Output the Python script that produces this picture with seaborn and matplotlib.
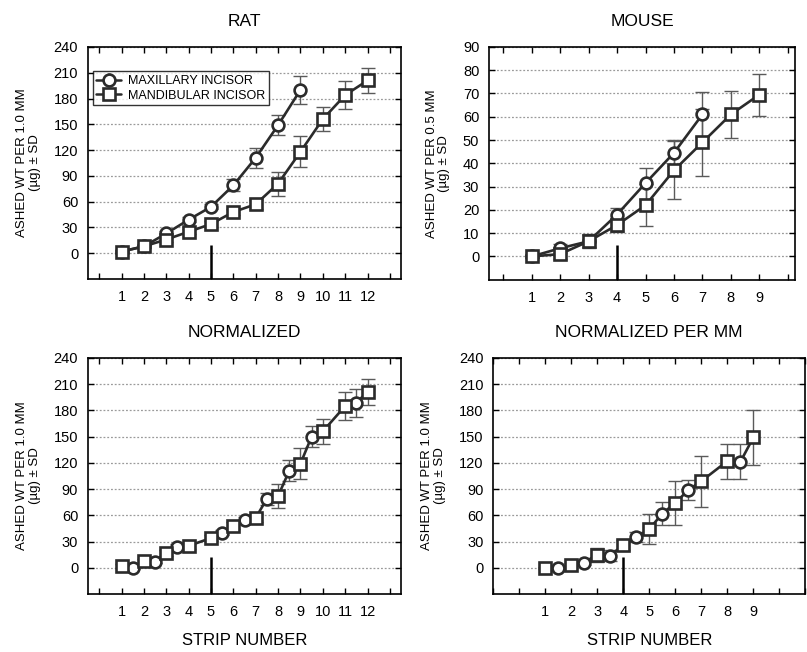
import matplotlib
matplotlib.use("Agg")
import matplotlib.pyplot as plt
import numpy as np
import pandas as pd
import seaborn as sns

# RAT, per 1.0 mm
rat_strips_max = [1, 2, 3, 4, 5, 6, 7, 8, 9]
rat_max = [2, 8, 23, 39, 54, 79, 111, 149, 190]
rat_max_sd = [2, 2, 3, 3, 3, 7, 12, 12, 16]
rat_strips_man = [1, 2, 3, 4, 5, 6, 7, 8, 9, 10, 11, 12]
rat_man = [2, 8, 16, 25, 34, 48, 57, 81, 118, 156, 184, 201]
rat_man_sd = [2, 2, 3, 3, 3, 4, 5, 14, 18, 14, 16, 15]

# MOUSE, per 0.5 mm
mouse_strips_max = [1, 2, 3, 4, 5, 6, 7]
mouse_max = [0, 3.5, 6.5, 18, 31.5, 44.5, 61]
mouse_max_sd = [0.5, 2, 2.5, 3, 6.7, 5.5, 9.5]
mouse_strips_man = [1, 2, 3, 4, 5, 6, 7, 8, 9]
mouse_man = [0, 1, 6.5, 13.5, 22, 37, 49, 61, 69.5]
mouse_man_sd = [0.5, 2, 3, 3, 9, 12.5, 14.5, 10, 9]

# NORMALIZED (maxillary shifted to half strips)
norm_strips_max = [1.5, 2.5, 3.5, 5.5, 6.5, 7.5, 8.5, 9.5, 11.5]
norm_max = [0, 7, 24, 40, 55, 79, 111, 150, 189]
norm_max_sd = [2, 2, 3, 3, 3, 7, 12, 12, 16]
norm_strips_man = [1, 2, 3, 4, 5, 6, 7, 8, 9, 10, 11, 12]
norm_man = [2, 8, 17, 25, 34, 48, 57, 82, 119, 156, 185, 201]
norm_man_sd = [2, 2, 3, 3, 3, 4, 5, 14, 18, 14, 16, 15]

# NORMALIZED PER MM
npm_strips_max = [1.5, 2.5, 3.5, 4.5, 5.5, 6.5, 8.5]
npm_max = [0, 6, 14, 35, 62, 89, 121]
npm_max_sd = [1, 3, 6, 6, 13, 11, 20]
npm_strips_man = [1, 2, 3, 4, 5, 6, 7, 8, 9]
npm_man = [0, 3, 15, 26, 44, 74, 99, 122, 149]
npm_man_sd = [1, 3, 8, 6, 17, 25, 29, 20, 31]

cut_rat = 5
cut_mouse = 4

INK = "#2b2b2b"
ERR = "#5a5a5a"
ylab_1mm = "ASHED WT PER 1.0 MM\n(µg) ± SD"
ylab_05mm = "ASHED WT PER 0.5 MM\n(µg) ± SD"

sns.set_style("white")
plt.rcParams["font.family"] = ["Liberation Sans", "DejaVu Sans"]
plt.rcParams["text.color"] = "black"
plt.rcParams["axes.labelcolor"] = "black"
plt.rcParams["xtick.color"] = "black"
plt.rcParams["ytick.color"] = "black"

fig = plt.figure(figsize=(8.07, 6.52), dpi=100)
ax1 = fig.add_axes([0.109, 0.572, 0.388, 0.356])
ax2 = fig.add_axes([0.606, 0.571, 0.379, 0.357])
ax3 = fig.add_axes([0.109, 0.089, 0.388, 0.362])
ax4 = fig.add_axes([0.611, 0.089, 0.387, 0.362])

mk = dict(markersize=8.5, markerfacecolor="white", markeredgecolor=INK,
          markeredgewidth=1.9)


def draw_err(ax, x, y, sd):
    ax.errorbar(x, y, yerr=sd, fmt="none", ecolor=ERR, elinewidth=1.0,
                capsize=5, capthick=1.0, zorder=2)


def draw_series(ax, x, y, sd, marker):
    draw_err(ax, x, y, sd)
    df = pd.DataFrame({"strip": x, "val": y})
    sns.lineplot(data=df, x="strip", y="val", ax=ax, color=INK,
                 linewidth=1.9, marker=marker, zorder=3, legend=False, **mk)


def draw_combined(ax, xm, ym, sdm, xs, ys, sds):
    df = pd.DataFrame({"strip": list(xm) + list(xs), "val": list(ym) + list(ys)})
    sns.lineplot(data=df, x="strip", y="val", ax=ax, color=INK,
                 linewidth=1.9, sort=True, zorder=3, legend=False)
    draw_err(ax, xm, ym, sdm)
    draw_err(ax, xs, ys, sds)
    ax.plot(xm, ym, linestyle="none", marker="o", zorder=4, **mk)
    ax.plot(xs, ys, linestyle="none", marker="s", zorder=4, **mk)


def style_axis(ax, title, xlim, ylim, yticks, xticks, ylabel, cut, cut_top,
               xlabel=None):
    ax.set_xlim(*xlim)
    ax.set_ylim(*ylim)
    ax.set_yticks(yticks)
    ax.set_xticks(np.arange(np.ceil(xlim[0]), np.floor(xlim[1]) + 1))
    ax.set_xticklabels([str(int(t)) if int(t) in xticks else ""
                        for t in ax.get_xticks()])
    ax.yaxis.grid(True, linestyle=(0, (1.5, 1.5)), color="#9a9a9a",
                  linewidth=0.9)
    ax.xaxis.grid(False)
    for s in ax.spines.values():
        s.set_color("black")
        s.set_linewidth(1.2)
        s.set_visible(True)
    ax.tick_params(direction="in", length=4, width=1, colors="black",
                   top=True, right=True, bottom=True, left=True,
                   labelsize=10.5, pad=7)
    ax.tick_params(axis="x", pad=8)
    ax.set_title(title, fontsize=12.5, pad=15, color="black")
    ax.set_ylabel(ylabel, fontsize=9.5, linespacing=1.1, labelpad=9)
    ax.set_xlabel(xlabel if xlabel else "", fontsize=12, labelpad=10)
    ax.vlines(cut, ylim[0], cut_top, color="black", linewidth=1.8, zorder=5)


# RAT
draw_series(ax1, rat_strips_max, rat_max, rat_max_sd, "o")
draw_series(ax1, rat_strips_man, rat_man, rat_man_sd, "s")
style_axis(ax1, "RAT", (-0.5, 13.5), (-30, 240), range(0, 241, 30),
           range(1, 13), ylab_1mm, cut_rat, 10)
h1 = ax1.errorbar([], [], yerr=[], color=INK, marker="o", capsize=5,
                  linewidth=1.8, ecolor=INK, **mk)
h2 = ax1.errorbar([], [], yerr=[], color=INK, marker="s", capsize=5,
                  linewidth=1.8, ecolor=INK, **mk)
leg = ax1.legend([h1, h2], ["MAXILLARY INCISOR", "MANDIBULAR INCISOR"],
                 loc="upper left", bbox_to_anchor=(0.015, 0.895),
                 fontsize=9, frameon=True, fancybox=False, handlelength=2.0,
                 borderpad=0.3, labelspacing=0.2, handletextpad=0.5,
                 borderaxespad=0.0)
leg.get_frame().set_edgecolor("black")
leg.get_frame().set_linewidth(1.0)

# MOUSE
draw_series(ax2, mouse_strips_max, mouse_max, mouse_max_sd, "o")
draw_series(ax2, mouse_strips_man, mouse_man, mouse_man_sd, "s")
style_axis(ax2, "MOUSE", (-0.5, 10.25), (-10, 90), range(0, 91, 10),
           range(1, 10), ylab_05mm, cut_mouse, 5)

# NORMALIZED
draw_combined(ax3, norm_strips_max, norm_max, norm_max_sd,
              norm_strips_man, norm_man, norm_man_sd)
style_axis(ax3, "NORMALIZED", (-0.5, 13.5), (-30, 240), range(0, 241, 30),
           range(1, 13), ylab_1mm, cut_rat, 12, xlabel="STRIP NUMBER")

# NORMALIZED PER MM
draw_combined(ax4, npm_strips_max, npm_max, npm_max_sd,
              npm_strips_man, npm_man, npm_man_sd)
style_axis(ax4, "NORMALIZED PER MM", (-1, 11), (-30, 240), range(0, 241, 30),
           range(1, 10), ylab_1mm, cut_mouse, 12, xlabel="STRIP NUMBER")

fig.savefig("out.png", dpi=100)
